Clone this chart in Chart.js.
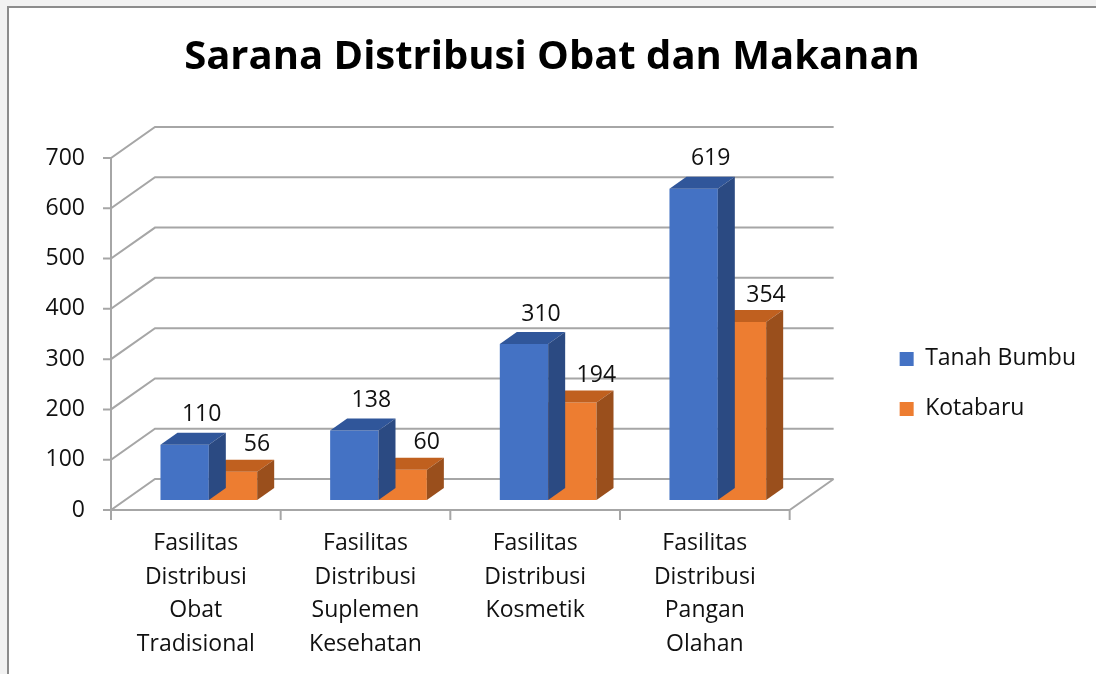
<!DOCTYPE html>
<html>
<head>
<meta charset="utf-8">
<script src="https://cdn.jsdelivr.net/npm/chart.js@4.4.1/dist/chart.umd.min.js"></script>
<style>
  html, body { margin: 0; padding: 0; background: #f2f2f2; overflow: hidden; }
  #frame { position: absolute; left: 7px; top: 6px; width: 1200px; height: 800px; border: 2px solid #8c8c8c; background: #fff; }
  #wrap { position: absolute; left: 0; top: 0; width: 1096px; height: 674px; }
</style>
</head>
<body>
<div id="frame"></div>
<div id="wrap"><canvas id="myChart"></canvas></div>
<script>
const categories = [
  ["Fasilitas", "Distribusi", "Obat", "Tradisional"],
  ["Fasilitas", "Distribusi", "Suplemen", "Kesehatan"],
  ["Fasilitas", "Distribusi", "Kosmetik"],
  ["Fasilitas", "Distribusi", "Pangan", "Olahan"]
];
const tanahBumbu = [110, 138, 310, 619];
const kotabaru = [56, 60, 194, 354];
const yTicks = [0, 100, 200, 300, 400, 500, 600, 700];

const frontColors = ["#4472c4", "#ed7d31"];
const topColors = ["#30569a", "#c0601f"];
const sideColors = ["#2b4a82", "#9a4f1c"];
const labelShift = [{ dx: 17, dy: -30 }, { dx: 24, dy: -27 }];

// 3d offsets, relative to the plane the bars stand in
const front = { dx: -13, dy: 10 };
const back = { dx: 31, dy: -21 };
const depth = { dx: 17, dy: -12 };
const gridColor = "#a6a6a6";

Chart.defaults.font.family = "'Open Sans', sans-serif";
Chart.defaults.color = "#111";

const frame3d = {
  id: "frame3d",
  beforeDatasetsDraw(chart) {
    const c = chart.ctx;
    const area = chart.chartArea;
    const y = chart.scales.y;
    const n = categories.length;
    const y0 = y.getPixelForValue(yTicks[0]);
    const yTop = y.getPixelForValue(yTicks[yTicks.length - 1]);
    c.save();
    c.strokeStyle = gridColor;
    c.lineWidth = 2;
    c.beginPath();
    yTicks.forEach((v) => {
      const py = y.getPixelForValue(v);
      c.moveTo(area.left + front.dx - 8, py + front.dy);
      c.lineTo(area.left + front.dx, py + front.dy);
      c.lineTo(area.left + back.dx, py + back.dy);
      c.lineTo(area.right + back.dx, py + back.dy);
    });
    // front axis line
    c.moveTo(area.left + front.dx, y0 + front.dy);
    c.lineTo(area.left + front.dx, yTop + front.dy);
    // floor edges
    c.moveTo(area.left + front.dx, y0 + front.dy);
    c.lineTo(area.right + front.dx, y0 + front.dy);
    c.lineTo(area.right + back.dx, y0 + back.dy);
    // category tick marks
    for (let i = 0; i <= n; i++) {
      const px = area.left + (i * area.width) / n + front.dx;
      c.moveTo(px, y0 + front.dy);
      c.lineTo(px, y0 + front.dy + 10);
    }
    c.stroke();
    c.restore();
  },
  afterDatasetDraw(chart, args) {
    const c = chart.ctx;
    const i = args.index;
    c.save();
    args.meta.data.forEach((bar) => {
      const p = bar.getProps(["x", "y", "base", "width"], true);
      const l = p.x - p.width / 2;
      const r = p.x + p.width / 2;
      c.fillStyle = topColors[i];
      c.beginPath();
      c.moveTo(l, p.y);
      c.lineTo(l + depth.dx, p.y + depth.dy);
      c.lineTo(r + depth.dx, p.y + depth.dy);
      c.lineTo(r, p.y);
      c.closePath();
      c.fill();
      c.fillStyle = sideColors[i];
      c.beginPath();
      c.moveTo(r, p.y);
      c.lineTo(r + depth.dx, p.y + depth.dy);
      c.lineTo(r + depth.dx, p.base + depth.dy);
      c.lineTo(r, p.base);
      c.closePath();
      c.fill();
    });
    c.restore();
  },
  afterDatasetsDraw(chart) {
    const c = chart.ctx;
    c.save();
    c.font = "23px 'Open Sans'";
    c.fillStyle = "#111";
    c.textAlign = "center";
    c.textBaseline = "middle";
    chart.data.datasets.forEach((ds, i) => {
      chart.getDatasetMeta(i).data.forEach((bar, j) => {
        c.fillText(ds.data[j], bar.x + labelShift[i].dx, bar.y + labelShift[i].dy);
      });
    });
    c.restore();
  }
};

const ctx = document.getElementById("myChart");
const myChart = new Chart(ctx, {
  type: "bar",
  data: {
    labels: categories,
    datasets: [
      { label: "Tanah Bumbu", data: tanahBumbu, backgroundColor: frontColors[0], borderWidth: 0 },
      { label: "Kotabaru", data: kotabaru, backgroundColor: frontColors[1], borderWidth: 0 }
    ]
  },
  options: {
    responsive: true,
    maintainAspectRatio: false,
    animation: false,
    categoryPercentage: 0.57,
    barPercentage: 1,
    layout: { padding: { left: 18, right: 10, top: 0, bottom: 0 } },
    scales: {
      x: {
        grid: { display: false, drawTicks: false },
        border: { display: false },
        ticks: {
          labelOffset: front.dx,
          padding: 27,
          maxRotation: 0,
          autoSkip: false,
          color: "#111",
          font: { size: 23, lineHeight: 1.46 }
        },
        afterFit: (axis) => { axis.height = 174; }
      },
      y: {
        min: 0,
        max: 700,
        grid: { display: false, drawTicks: false },
        border: { display: false },
        ticks: { labelOffset: front.dy, padding: 39, color: "#111", font: { size: 23 } },
        afterBuildTicks: (axis) => { axis.ticks = yTicks.map((v) => ({ value: v })); },
        afterFit: (axis) => { axis.width = 106; }
      },
      // empty gap between the plot and the legend
      spacer: {
        type: "linear",
        position: "right",
        display: false,
        afterFit: (axis) => { axis.width = 70; }
      }
    },
    plugins: {
      title: {
        display: true,
        text: "Sarana Distribusi Obat dan Makanan",
        color: "#000",
        font: { size: 40, weight: "bold" },
        padding: { top: 34, bottom: 66 }
      },
      legend: {
        position: "right",
        fullSize: false,
        align: "start",
        title: { display: true, text: "", padding: { top: 158, bottom: 0 }, font: { size: 12 } },
        labels: {
          boxWidth: 14,
          boxHeight: 14,
          padding: 27,
          color: "#111",
          font: { size: 23 }
        }
      },
      tooltip: { enabled: false }
    }
  },
  plugins: [frame3d]
});
</script>
</body>
</html>
